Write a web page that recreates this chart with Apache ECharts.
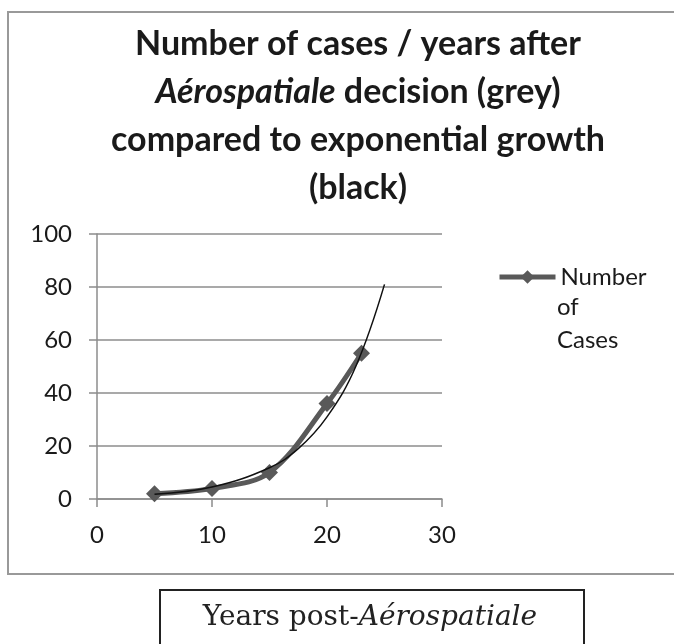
<!DOCTYPE html>
<html><head><meta charset="utf-8">
<script src="https://cdn.jsdelivr.net/npm/echarts@6/dist/echarts.min.js"></script>
<style>html,body{margin:0;padding:0;background:#fff}#c{width:674px;height:644px}</style>
</head><body><div id="c"></div>
<script>
const seriesName = 'Number of Cases';
const years = [5, 10, 15, 20, 23];
const cases = [2, 4, 10, 36, 55];
// black exponential trend curve
const trendYears = [5, 10, 15, 17.5, 20, 22.5, 25];
const trendCases = [1.8, 4.5, 11.8, 19, 31, 50, 81];
const xTicks = [0, 10, 20, 30];
const yTicks = [0, 20, 40, 60, 80, 100];

const chart = echarts.init(document.getElementById('c'), null, {renderer: 'canvas'});
const font = 'Lato, "Noto Sans", sans-serif';
const serif = '"DejaVu Serif", "Liberation Serif", serif';
chart.setOption({
  animation: false,
  backgroundColor: '#fff',
  grid: {left: 97, right: 232, top: 234, bottom: 145},
  xAxis: {
    type: 'value', min: xTicks[0], max: xTicks[xTicks.length - 1], interval: 10,
    axisLine: {show: true, lineStyle: {color: '#8c8c8c', width: 1.5}},
    axisTick: {show: true, length: 8, lineStyle: {color: '#8c8c8c', width: 1.5}},
    axisLabel: {color: '#1a1a1a', fontSize: 24, fontFamily: font, margin: 24},
    splitLine: {show: false}
  },
  yAxis: {
    type: 'value', min: yTicks[0], max: yTicks[yTicks.length - 1], interval: 20,
    axisLine: {show: true, lineStyle: {color: '#8c8c8c', width: 1.5}},
    axisTick: {show: true, length: 8, lineStyle: {color: '#8c8c8c', width: 1.5}},
    axisLabel: {color: '#1a1a1a', fontSize: 24, fontFamily: font, margin: 25},
    splitLine: {show: true, lineStyle: {color: '#8c8c8c', width: 1.5}}
  },
  legend: {
    data: [{name: seriesName, lineStyle: {width: 5, color: '#595959'}, itemStyle: {color: '#595959'}}],
    left: 497, top: 265, padding: 0, orient: 'vertical',
    itemWidth: 56, itemHeight: 17, itemGap: 0,
    formatter: () => 'Number',
    textStyle: {fontSize: 24, fontFamily: font, color: '#1a1a1a'}
  },
  series: [
    {
      name: seriesName, type: 'line', smooth: 0.35,
      data: years.map((x, i) => [x, cases[i]]),
      symbol: 'diamond', symbolSize: 17,
      lineStyle: {color: '#595959', width: 5},
      itemStyle: {color: '#595959'},
      z: 2
    },
    {
      name: 'trend', type: 'line', smooth: 0.4, silent: true,
      data: trendYears.map((x, i) => [x, trendCases[i]]),
      symbol: 'none',
      lineStyle: {color: '#111', width: 1.5},
      z: 3
    }
  ],
  graphic: [
    {type: 'rect', shape: {x: 8, y: 12, width: 720, height: 562}, style: {fill: 'none', stroke: '#999', lineWidth: 2}, silent: true},
    {type: 'text', x: 358, y: 20, style: {
      text: '{b|Number of cases / years after}\n{i|Aérospatiale}{b| decision (grey)}\n{b|compared to exponential growth}\n{b|(black)}',
      align: 'center', fill: '#1a1a1a',
      rich: {
        b: {fontSize: 34, fontWeight: 'bold', fontFamily: font, lineHeight: 48, fill: '#1a1a1a'},
        i: {fontSize: 34, fontWeight: 'bold', fontStyle: 'italic', fontFamily: font, lineHeight: 48, fill: '#1a1a1a'}
      }
    }},
    {type: 'text', x: 557, y: 291, style: {
      text: 'of\nCases', fontSize: 24, fontFamily: font, fill: '#1a1a1a', lineHeight: 33, verticalAlign: 'top'
    }},
    {type: 'rect', shape: {x: 160, y: 590, width: 424, height: 70}, style: {fill: '#fff', stroke: '#222', lineWidth: 2}, silent: true},
    {type: 'text', x: 370, y: 618, style: {
      text: '{r|Years post-}{i|Aérospatiale}', align: 'center', verticalAlign: 'middle',
      rich: {
        r: {fontSize: 28, fontFamily: serif, fill: '#222'},
        i: {fontSize: 28, fontStyle: 'italic', fontFamily: serif, fill: '#222'}
      }
    }}
  ]
});
</script></body></html>
